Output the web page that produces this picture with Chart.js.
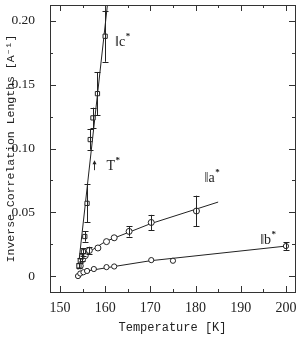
<!DOCTYPE html>
<html><head><meta charset="utf-8">
<script src="https://cdn.jsdelivr.net/npm/chart.js@4/dist/chart.umd.min.js"></script>
<style>html,body{margin:0;padding:0;background:#fff}#w{width:300px;height:338px}</style>
</head><body><div id="w"><canvas id="c"></canvas></div>
<script>
// c* (squares)
const cT = [154.2, 154.5, 154.8, 155.2, 155.5, 156.0, 156.7, 157.3, 158.3, 160.0];
const cV = [0.008, 0.012, 0.015, 0.019, 0.031, 0.057, 0.107, 0.124, 0.143, 0.188];
const cE = [0.002, 0.002, 0.003, 0.003, 0.004, 0.015, 0.008, 0.008, 0.017, 0.020];
// a* (circles)
const aT = [154.5, 155.0, 155.6, 156.5, 158.4, 160.3, 162.0, 165.3, 170.2, 180.2];
const aV = [0.008, 0.013, 0.016, 0.020, 0.022, 0.027, 0.030, 0.035, 0.042, 0.051];
const aE = [0, 0, 0, 0.003, 0, 0, 0, 0.004, 0.006, 0.012];
// b* (circles)
const bT = [154.0, 154.5, 155.2, 156.0, 157.5, 160.3, 162.0, 170.2, 175.0, 200.0];
const bV = [0.000, 0.002, 0.003, 0.004, 0.0055, 0.007, 0.0075, 0.0125, 0.012, 0.0235];
const bE = [0, 0, 0, 0, 0, 0, 0, 0, 0, 0.003];
// guide lines
const cLineT = [154.0, 160.5];
const cLineV = [0.005, 0.2125];
const aLineT = [154.2, 156.5, 160.0, 170.0, 185.0];
const aLineV = [0.006, 0.019, 0.027, 0.041, 0.058];
const bLineT = [154.0, 156.0, 162.0, 170.0, 200.0];
const bLineV = [0.000, 0.004, 0.0075, 0.012, 0.0235];
// axis ticks
const xTicks = [150, 160, 170, 180, 190, 200];
const yTicks = [0, 0.05, 0.10, 0.15, 0.20];
const yLabels = ['0', '0.05', '0.10', '0.15', '0.20'];

const pts = (T, V) => T.map((t, i) => ({x: t, y: V[i]}));
const FONT = '"Liberation Serif", "DejaVu Serif", serif';
const MONO = '"Liberation Mono", "DejaVu Sans Mono", monospace';
const INK = '#222';

const lineDs = (T, V) => ({type: 'line', data: pts(T, V), borderColor: INK, borderWidth: 1, pointRadius: 0, fill: false, tension: 0, order: 2});
const ptDs = (T, V, E, style, r) => ({type: 'scatter', data: pts(T, V), err: E, pointStyle: style, pointRadius: r,
  pointBackgroundColor: '#fff', pointBorderColor: INK, pointBorderWidth: 1, order: 1});

const errPlugin = {
  id: 'err',
  afterDatasetsDraw(chart) {
    const ctx = chart.ctx, xs = chart.scales.x, ys = chart.scales.y;
    ctx.save(); ctx.strokeStyle = INK; ctx.lineWidth = 1;
    chart.data.datasets.forEach(ds => {
      if (!ds.err) return;
      ds.data.forEach((p, i) => {
        const e = ds.err[i]; if (!e) return;
        const px = Math.round(xs.getPixelForValue(p.x)) + 0.5;
        const y1 = ys.getPixelForValue(p.y + e), y2 = ys.getPixelForValue(p.y - e);
        ctx.beginPath();
        ctx.moveTo(px, y1); ctx.lineTo(px, y2);
        ctx.moveTo(px - 3, Math.round(y1) + 0.5); ctx.lineTo(px + 3, Math.round(y1) + 0.5);
        ctx.moveTo(px - 3, Math.round(y2) + 0.5); ctx.lineTo(px + 3, Math.round(y2) + 0.5);
        ctx.stroke();
      });
    });
    ctx.restore();
  }
};

const frame = {
  id: 'frame',
  afterDraw(chart) {
    const ctx = chart.ctx, a = chart.chartArea, xs = chart.scales.x, ys = chart.scales.y;
    ctx.save(); ctx.strokeStyle = '#333'; ctx.lineWidth = 1;
    ctx.strokeRect(Math.round(a.left) + 0.5, Math.round(a.top) + 0.5, Math.round(a.right - a.left), Math.round(a.bottom - a.top));
    ctx.beginPath();
    for (let t = 150; t <= 200; t += 5) {
      const px = Math.round(xs.getPixelForValue(t)) + 0.5, L = (t % 10 === 0) ? 6 : 3;
      ctx.moveTo(px, a.bottom); ctx.lineTo(px, a.bottom - L);
      ctx.moveTo(px, a.top); ctx.lineTo(px, a.top + L);
    }
    for (let k = 0; k <= 8; k++) {
      const v = k * 0.025, py = Math.round(ys.getPixelForValue(v)) + 0.5, L = (k % 2 === 0) ? 6 : 3;
      ctx.moveTo(a.left, py); ctx.lineTo(a.left + L, py);
      ctx.moveTo(a.right, py); ctx.lineTo(a.right - L, py);
    }
    ctx.stroke();
    // annotations
    ctx.fillStyle = INK; ctx.textBaseline = 'alphabetic';
    const lab = (t, v, main) => {
      const x = xs.getPixelForValue(t), y = ys.getPixelForValue(v);
      ctx.font = '14px ' + FONT;
      ctx.fillText(main, x, y);
      const w = ctx.measureText(main).width;
      ctx.font = 'bold 9px ' + FONT;
      ctx.fillText('*', x + w + 0.5, y - 7);
    };
    lab(162.2, 0.180, '\u2016c');
    lab(182.0, 0.074, '\u2016a');
    lab(194.3, 0.025, '\u2016b');
    // T* arrow
    const ax = Math.round(xs.getPixelForValue(157.6)) + 0.5, ay = ys.getPixelForValue(0.083);
    ctx.beginPath(); ctx.moveTo(ax, ay); ctx.lineTo(ax, ay - 7); ctx.stroke();
    ctx.beginPath(); ctx.moveTo(ax - 2, ay - 6); ctx.lineTo(ax, ay - 10); ctx.lineTo(ax + 2, ay - 6); ctx.closePath(); ctx.fill();
    lab(160.3, 0.083, 'T');
    ctx.restore();
  }
};

new Chart(document.getElementById('c'), {
  data: {datasets: [
    lineDs(cLineT, cLineV), lineDs(aLineT, aLineV), lineDs(bLineT, bLineV),
    ptDs(cT, cV, cE, 'rect', 3), ptDs(aT, aV, aE, 'circle', 3), ptDs(bT, bV, bE, 'circle', 2.6)
  ]},
  options: {
    responsive: true, maintainAspectRatio: false, animation: false,
    layout: {padding: {left: 0, right: 4, top: 3, bottom: 0}},
    plugins: {legend: {display: false}, tooltip: {enabled: false}},
    scales: {
      x: {type: 'linear', min: 147.8, max: 202,
        afterFit(s) { s.height = 46; s.paddingLeft = 0; s.paddingRight = 0; },
        grid: {display: false}, border: {display: false},
        afterBuildTicks(s) { s.ticks = xTicks.map(v => ({value: v})); },
        ticks: {color: INK, font: {family: FONT, size: 14}, padding: 0, maxRotation: 0},
        title: {display: true, text: 'Temperature [K]', color: INK, font: {family: MONO, size: 12}, padding: {top: 4, bottom: 3}}
      },
      y: {type: 'linear', min: -0.0125, max: 0.2125, position: 'left',
        afterFit(s) { s.width = 50; s.paddingTop = 0; s.paddingBottom = 0; },
        grid: {display: false}, border: {display: false},
        afterBuildTicks(s) { s.ticks = yTicks.map(v => ({value: v})); },
        ticks: {color: INK, font: {family: FONT, size: 13.5}, padding: 7, crossAlign: 'near',
          callback: (v) => { const i = yTicks.findIndex(t => Math.abs(t - v) < 1e-9); return i >= 0 ? yLabels[i] : ''; }},
        title: {display: true, text: 'Inverse Correlation Lengths [A\u207B\u00B9]', color: INK, font: {family: MONO, size: 11.5}, padding: {top: 4, bottom: 0}}
      }
    }
  },
  plugins: [errPlugin, frame]
});
</script>
</body></html>
